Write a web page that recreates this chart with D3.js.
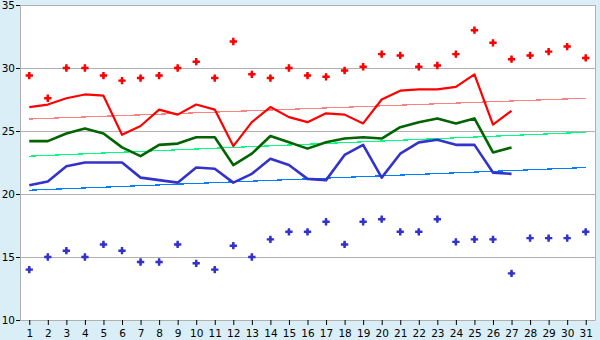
<!DOCTYPE html>
<html>
<head>
<meta charset="utf-8">
<script src="https://cdn.jsdelivr.net/npm/d3@7"></script>
<style>
  body { margin: 0; background: #d9eef6; }
  svg { display: block; }
  .tick text { font-family: "DejaVu Sans", Verdana, sans-serif; font-size: 10.5px; fill: #000; }
</style>
</head>
<body>
<div id="chart"></div>
<script>
var days = d3.range(1, 32);
var yTicks = [10, 15, 20, 25, 30, 35];

// dots
var highDots = [29.4, 27.6, 30.0, 30.0, 29.4, 29.0, 29.2, 29.4, 30.0, 30.5,
  29.2, 32.1, 29.5, 29.2, 30.0, 29.4, 29.3, 29.8, 30.1, 31.1,
  31.0, 30.1, 30.2, 31.1, 33.0, 32.0, 30.7, 31.0, 31.3, 31.7, 30.8];
var lowDots = [14.0, 15.0, 15.5, 15.0, 16.0, 15.5, 14.6, 14.6, 16.0, 14.5,
  14.0, 15.9, 15.0, 16.4, 17.0, 17.0, 17.8, 16.0, 17.8, 18.0,
  17.0, 17.0, 18.0, 16.2, 16.4, 16.4, 13.7, 16.5, 16.5, 16.5, 17.0];

// lines (days 1..27)
var redLine = [26.9, 27.1, 27.6, 27.9, 27.8, 24.7, 25.4, 26.7, 26.3, 27.1,
  26.7, 23.8, 25.7, 26.9, 26.1, 25.7, 26.4, 26.3, 25.6, 27.5,
  28.2, 28.3, 28.3, 28.5, 29.5, 25.5, 26.6];
var greenLine = [24.2, 24.2, 24.8, 25.2, 24.8, 23.7, 23.0, 23.9, 24.0, 24.5,
  24.5, 22.3, 23.2, 24.6, 24.1, 23.6, 24.1, 24.4, 24.5, 24.4,
  25.3, 25.7, 26.0, 25.6, 26.0, 23.3, 23.7];
var blueLine = [20.7, 21.0, 22.2, 22.5, 22.5, 22.5, 21.3, 21.1, 20.9, 22.1,
  22.0, 20.9, 21.6, 22.8, 22.3, 21.2, 21.1, 23.1, 23.9, 21.3,
  23.2, 24.1, 24.3, 23.9, 23.9, 21.7, 21.6];

// trend lines: value at day 1 and day 31
var redTrend = [25.95, 27.6];
var greenTrend = [23.0, 24.9];
var blueTrend = [20.3, 22.1];

var svgWidth = 600, svgHeight = 340;
var margin = { top: 5, right: 5, bottom: 20, left: 20 };
var width = svgWidth - margin.left - margin.right;
var height = svgHeight - margin.top - margin.bottom;

var svg = d3.select("#chart").append("svg")
  .attr("width", svgWidth)
  .attr("height", svgHeight);

var g = svg.append("g")
  .attr("transform", `translate(${margin.left}, ${margin.top})`);

var x = d3.scalePoint().domain(days).range([0, width]).padding(0.5);
var y = d3.scaleLinear().domain([10, 35]).range([height, 0]);

// plot background
g.append("rect").attr("width", width).attr("height", height).attr("fill", "#fff");

// grid
g.selectAll(".grid").data(yTicks).enter().append("line")
  .attr("x1", 0).attr("x2", width)
  .attr("y1", d => Math.round(y(d)) + 0.5).attr("y2", d => Math.round(y(d)) + 0.5)
  .attr("stroke", "#b0b0b0");

g.append("line").attr("x1", width + 0.5).attr("x2", width + 0.5)
  .attr("y1", 0).attr("y2", height).attr("stroke", "#b0b0b0");

// axes
var xAxis = g.append("g")
  .attr("transform", `translate(0, ${height})`)
  .call(d3.axisBottom(x).tickSize(5).tickSizeOuter(0).tickPadding(5));
xAxis.select(".domain").attr("stroke", "#b0b0b0");
xAxis.selectAll(".tick line").attr("stroke", "#000");

var yAxis = g.append("g")
  .call(d3.axisLeft(y).tickValues(yTicks).tickSize(4).tickSizeOuter(0).tickPadding(1));
yAxis.select(".domain").attr("stroke", "#b0b0b0");
yAxis.selectAll(".tick line").attr("stroke", "#000");

// trend lines
function trend(vals, color) {
  g.append("line")
    .attr("x1", x(1)).attr("y1", y(vals[0]))
    .attr("x2", x(31)).attr("y2", y(vals[1]))
    .attr("stroke", color).attr("stroke-width", 1.2)
    .attr("shape-rendering", "crispEdges");
}
trend(redTrend, "#ff8080");
trend(greenTrend, "#00ff80");
trend(blueTrend, "#0080ff");

// main lines
var line = d3.line().x((d, i) => x(days[i])).y(d => y(d));
function drawLine(vals, color, w) {
  g.append("path").datum(vals)
    .attr("d", line)
    .attr("fill", "none")
    .attr("stroke", color)
    .attr("stroke-width", w)
    .attr("stroke-linejoin", "round");
}
drawLine(redLine, "#ff0000", 2.2);
drawLine(greenLine, "#006400", 2.6);
drawLine(blueLine, "#3333cc", 2.6);

// dots: plus with a filled centre
var cross = d3.symbol().type(d3.symbolCross).size(30);
var diamond = d3.symbol().type(d3.symbolDiamond).size(14);
function drawDots(vals, color) {
  var dots = g.selectAll(null).data(vals).enter().append("g")
    .attr("transform", (d, i) => `translate(${x(days[i])}, ${y(d)})`)
    .attr("fill", color);
  dots.append("path").attr("d", cross);
  dots.append("path").attr("d", diamond);
}
drawDots(highDots, "#ff0000");
drawDots(lowDots, "#3333cc");
</script>
</body>
</html>
